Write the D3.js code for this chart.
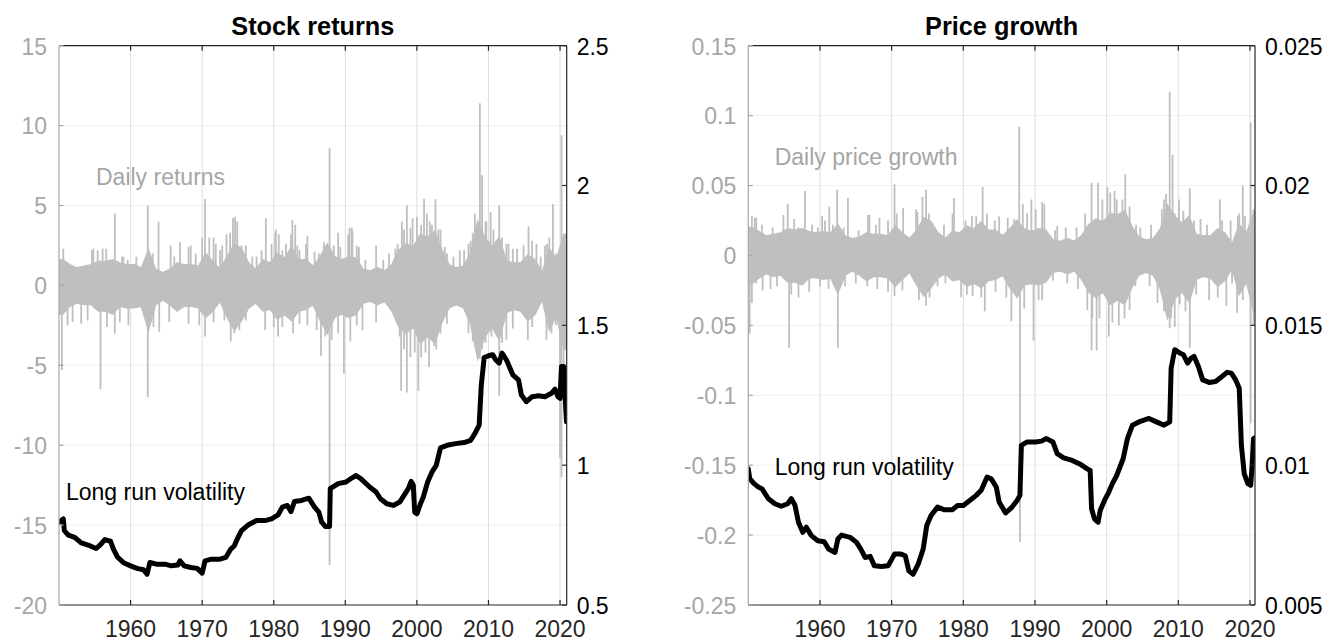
<!DOCTYPE html>
<html>
<head>
<meta charset="utf-8">
<script src="https://cdn.jsdelivr.net/npm/d3@7"></script>
<style>
  body { margin: 0; background: #fff; }
  svg { display: block; }
  text { font-family: "Liberation Sans", Arial, Helvetica, sans-serif; }
</style>
</head>
<body>
<svg id="chart" width="1340" height="642"></svg>
<script>
// ---------------- data ----------------
const bandYears = d3.range(1950, 2021);           // yearly buckets 1950..2020
const decadeTicks = [1960, 1970, 1980, 1990, 2000, 2010, 2020];

// Stock returns: typical daily range per year (percent)
const retHi = [1.6,1.3,1.1,1.2,1.3,1.5,1.5,1.6,1.4,1.3, 1.3,1.1,2.2,1.0,0.8,1.0,1.4,1.3,1.3,1.2,
               2.0,1.5,1.0,1.8,2.6,2.3,1.4,1.0,1.6,1.4, 2.0,1.7,2.4,1.6,1.6,1.2,1.8,2.6,1.8,1.6,
               1.8,1.7,1.0,0.9,1.1,0.9,1.3,2.2,2.6,2.4, 3.2,3.0,3.4,2.2,1.3,1.1,1.2,2.0,4.0,3.0,
               2.4,3.0,1.5,1.4,1.4,1.9,1.6,0.8,2.3,1.6, 3.2];
const retLo = [-1.8,-1.3,-1.1,-1.2,-1.2,-1.6,-1.6,-1.8,-1.3,-1.4, -1.4,-1.3,-2.8,-1.2,-0.9,-1.2,-1.6,-1.3,-1.3,-1.4,
               -2.0,-1.6,-1.0,-2.0,-2.8,-2.2,-1.4,-1.1,-1.6,-1.5, -2.1,-1.8,-2.2,-1.6,-1.5,-1.2,-2.2,-3.0,-2.0,-1.8,
               -2.0,-1.8,-1.1,-1.0,-1.2,-1.0,-1.6,-2.6,-3.0,-2.6, -3.6,-3.2,-3.6,-2.3,-1.4,-1.2,-1.4,-2.4,-4.6,-3.2,
               -2.6,-3.4,-1.7,-1.5,-1.6,-2.2,-1.8,-0.9,-2.8,-1.9, -4.0];
// Stock returns: individual large daily moves [year, percent]
const retSpikes = [
  [1950.6,2.3],[1954.6,2.2],[1956.1,2.3],[1957.8,4.5],[1959.0,1.8],[1962.4,5.0],[1963.9,4.0],
  [1965.6,2.5],[1966.9,2.7],[1968.4,2.5],[1970.4,5.4],[1971.0,3.0],[1971.9,2.6],[1973.4,3.2],
  [1974.6,4.3],[1974.9,4.0],[1976.1,2.5],[1977.6,1.8],[1978.9,4.2],[1980.2,3.3],[1981.2,2.2],
  [1982.6,4.1],[1983.3,2.5],[1984.5,2.6],[1986.3,2.0],[1987.2,2.5],[1987.8,8.6],[1989.0,3.3],
  [1990.6,3.6],[1991.0,3.4],[1991.9,2.4],[1997.0,2.3],[1997.9,4.0],[1998.6,5.0],[2000.0,4.3],
  [2001.0,5.4],[2001.8,4.0],[2002.6,5.4],[2003.3,3.5],[2004.2,2.0],[2006.6,2.2],[2007.5,2.8],
  [2008.1,4.5],[2008.8,11.4],[2009.1,6.9],[2009.6,4.0],[2010.3,4.6],[2011.5,5.0],[2012.8,2.6],
  [2014.0,2.3],[2015.6,3.7],[2016.7,2.6],[2018.2,2.6],[2019.0,5.1],[2020.2,9.4],[2020.6,2.5],
  [1954.8,2.3],[1955.4,2.2],[1956.6,2.3],[1958.8,1.8],[1959.6,1.6],[1960.8,1.8],[1963.1,2.0],
  [1966.1,1.8],[1968.1,2.4],[1969.1,2.0],[1970.0,3.0],[1971.6,3.0],[1972.5,2.2],[1972.8,2.5],
  [1973.9,3.3],[1974.3,4.2],[1975.5,2.5],[1977.0,1.8],[1978.3,2.2],[1979.7,2.6],[1980.3,3.5],
  [1980.7,3.2],[1981.7,2.6],[1982.4,3.2],[1983.0,3.8],[1983.6,2.2],[1984.7,3.1],[1985.7,2.1],
  [1987.0,2.7],[1987.4,2.4],[1988.4,2.5],[1989.3,2.4],[1990.4,3.2],[1990.9,3.6],[1991.6,2.5],
  [1992.8,1.6],[1994.3,2.5],[1995.3,1.6],[1996.1,2.0],[1997.3,2.6],[1998.2,3.5],[1999.1,3.6],
  [1999.4,4.2],[2000.6,3.8],[2001.4,4.5],[2002.1,3.8],[2003.0,3.5],[2003.9,2.4],[2005.1,1.8],
  [2006.0,2.2],[2007.2,2.6],[2007.8,3.3],[2008.4,3.8],[2009.7,4.0],[2010.7,3.5],[2011.9,3.0],
  [2012.5,2.6],[2013.4,2.3],[2014.9,2.5],[2016.1,2.8],[2017.3,1.8],[2017.9,2.5],[2018.5,3.0],
  [2019.4,2.0],
  [1950.4,-5.3],[1955.8,-6.5],[1957.8,-3.0],[1962.4,-7.0],[1964.0,-2.9],[1970.4,-3.2],[1974.0,-3.5],
  [1974.5,-3.0],[1978.8,-2.8],[1980.6,-3.2],[1982.7,-3.0],[1986.6,-4.4],[1987.8,-17.5],[1988.1,-3.4],
  [1989.8,-5.5],[1990.7,-3.5],[1997.8,-6.6],[1998.6,-6.7],[1999.7,-4.2],[2000.2,-6.6],[2001.7,-5.1],
  [2002.4,-3.8],[2003.3,-3.0],[2007.2,-3.0],[2008.1,-3.8],[2008.8,-4.6],[2009.1,-4.0],[2011.5,-6.9],
  [2012.5,-3.4],[2015.5,-3.4],[2018.1,-3.4],[2018.8,-3.0],[2020.0,-10.8],[2020.2,-12.0],[2020.5,-5.3],
  [1951.2,-2.5],[1951.9,-2.3],[1953.1,-2.4],[1954.0,-2.2],[1956.7,-2.6],[1958.5,-2.3],[1959.7,-2.5],
  [1963.2,-2.6],[1965.4,-2.3],[1968.1,-2.4],[1969.6,-2.5],[1971.6,-2.3],[1973.1,-2.2],[1975.2,-2.8],
  [1976.1,-2.2],[1980.0,-2.6],[1981.2,-2.6],[1983.6,-2.4],[1984.7,-2.5],[1986.0,-2.8],[1987.2,-3.2],
  [1989.0,-3.0],[1991.6,-2.5],[1992.4,-2.8],[1994.3,-2.3],[1997.6,-3.2],[1998.2,-4.0],[1999.1,-4.5],
  [2000.6,-4.5],[2001.2,-4.2],[2002.7,-4.0],[2004.2,-2.4],[2007.8,-3.5],[2008.4,-4.2],[2009.6,-3.6],
  [2010.4,-3.2],[2011.9,-3.6],[2013.4,-2.7],[2016.1,-2.6],[2019.4,-2.5]
];

// Price growth: typical daily range per year
const pgHi = [.020,.017,.014,.015,.016,.019,.018,.019,.017,.016, .017,.016,.022,.014,.012,.013,.016,.015,.015,.014,
              .021,.016,.012,.018,.027,.024,.016,.012,.017,.016, .021,.019,.024,.018,.018,.014,.019,.025,.019,.017,
              .019,.018,.011,.010,.012,.010,.014,.022,.026,.024, .030,.029,.032,.021,.013,.011,.012,.019,.036,.028,
              .023,.028,.015,.014,.014,.019,.016,.008,.022,.016, .030];
const pgLo = [-.020,-.016,-.013,-.015,-.014,-.019,-.019,-.021,-.016,-.016, -.017,-.016,-.027,-.014,-.011,-.014,-.018,-.015,-.015,-.016,
              -.022,-.017,-.012,-.021,-.029,-.023,-.016,-.013,-.018,-.017, -.022,-.020,-.023,-.018,-.017,-.014,-.023,-.030,-.021,-.020,
              -.021,-.019,-.012,-.011,-.013,-.011,-.017,-.026,-.030,-.026, -.035,-.032,-.035,-.023,-.014,-.012,-.014,-.024,-.045,-.031,
              -.026,-.033,-.017,-.015,-.016,-.022,-.018,-.009,-.028,-.019, -.040];
// Price growth: individual large daily moves [year, growth]
const pgSpikes = [
  [1950.5,.028],[1951.1,.027],[1954.9,.029],[1955.5,.037],[1957.9,.046],[1960.3,.028],[1961.3,.035],
  [1962.4,.047],[1963.9,.041],[1966.9,.029],[1968.3,.027],[1970.4,.051],[1971.6,.034],[1973.6,.031],
  [1974.8,.047],[1978.7,.041],[1981.2,.028],[1982.7,.049],[1985.0,.028],[1987.8,.092],[1988.3,.037],
  [1989.5,.040],[1991.0,.038],[1993.1,.021],[1997.9,.052],[1998.8,.052],[2000.1,.049],[2001.1,.046],
  [2002.6,.058],[2004.1,.022],[2008.3,.044],[2008.8,.117],[2009.2,.072],[2010.1,.040],[2011.6,.048],
  [2013.1,.026],[2015.8,.040],[2018.3,.028],[2019.0,.050],[2020.1,.095],[2020.5,.033],
  [1950.9,.027],[1951.9,.022],[1953.4,.020],[1956.4,.026],[1957.0,.020],[1958.9,.022],[1959.7,.020],
  [1960.7,.025],[1961.8,.022],[1963.3,.020],[1965.4,.018],[1966.7,.029],[1967.8,.022],[1969.5,.025],
  [1970.7,.030],[1973.4,.033],[1974.3,.042],[1975.2,.030],[1977.3,.022],[1978.5,.030],[1980.3,.025],
  [1981.8,.028],[1983.3,.030],[1984.4,.025],[1986.2,.027],[1987.1,.026],[1988.9,.030],[1990.1,.033],
  [1991.3,.037],[1992.8,.018],[1994.3,.020],[1995.8,.020],[1997.0,.030],[1999.4,.040],[2000.5,.045],
  [2001.4,.040],[2002.2,.040],[2003.2,.035],[2004.7,.020],[2006.2,.022],[2007.7,.033],[2008.0,.040],
  [2009.5,.030],[2010.7,.032],[2012.2,.025],[2014.0,.022],[2016.1,.025],[2017.3,.025],[2018.5,.030],
  [2019.3,.028],
  [1950.2,-.056],[1950.5,-.034],[1951.1,-.020],[1953.1,-.024],[1955.7,-.066],[1957.0,-.030],[1961.2,-.024],
  [1962.5,-.066],[1966.6,-.022],[1970.4,-.029],[1974.8,-.036],[1976.4,-.022],[1979.7,-.030],[1981.3,-.029],
  [1983.0,-.040],[1986.7,-.047],[1987.9,-.205],[1989.8,-.061],[1991.0,-.032],[1997.3,-.039],[1997.9,-.068],
  [1998.6,-.068],[2000.3,-.058],[2001.7,-.050],[2003.2,-.039],[2007.1,-.034],[2008.8,-.052],[2009.5,-.051],
  [2011.6,-.066],[2014.3,-.032],[2016.7,-.036],[2018.2,-.041],[2020.1,-.120],[2020.5,-.050],
  [1952.0,-.025],[1954.0,-.022],[1956.0,-.028],[1958.5,-.026],[1960.0,-.022],[1963.5,-.022],[1965.0,-.020],
  [1968.0,-.024],[1969.5,-.026],[1971.5,-.025],[1973.8,-.032],[1975.3,-.030],[1977.5,-.020],[1980.5,-.028],
  [1982.5,-.030],[1984.5,-.026],[1986.0,-.030],[1988.5,-.038],[1990.5,-.032],[1992.5,-.018],[1994.5,-.020],
  [1996.0,-.024],[1998.0,-.045],[1999.0,-.045],[2000.8,-.048],[2002.5,-.045],[2004.0,-.022],[2006.0,-.022],
  [2008.0,-.040],[2009.0,-.045],[2010.2,-.035],[2011.0,-.040],[2012.5,-.028],[2015.5,-.030],[2017.5,-.020],
  [2019.0,-.032]
];

// Long run volatility [year, value]
const volStock = [
  [1950.0,0.796],[1950.6,0.808],[1950.75,0.766],[1951.3,0.750],[1952.2,0.742],[1953.1,0.722],[1954.3,0.712],
  [1955.2,0.702],[1955.8,0.716],[1956.4,0.734],[1957.2,0.728],[1957.6,0.700],[1958.2,0.670],[1959.1,0.650],
  [1960.0,0.640],[1960.9,0.631],[1961.8,0.626],[1962.3,0.610],[1962.7,0.652],[1963.6,0.646],[1964.8,0.646],
  [1965.7,0.640],[1966.6,0.643],[1966.9,0.658],[1967.5,0.640],[1968.4,0.634],[1969.3,0.631],[1970.0,0.614],
  [1970.4,0.658],[1971.3,0.664],[1972.5,0.664],[1973.3,0.670],[1974.0,0.700],[1974.5,0.712],[1974.9,0.736],
  [1975.5,0.766],[1976.4,0.786],[1977.6,0.802],[1978.8,0.802],[1979.7,0.808],[1980.6,0.822],[1981.2,0.850],
  [1981.9,0.856],[1982.4,0.834],[1982.9,0.870],[1983.9,0.874],[1984.9,0.882],[1985.7,0.850],[1986.3,0.832],
  [1986.7,0.796],[1987.2,0.781],[1987.8,0.781],[1987.9,0.916],[1989.0,0.934],[1990.1,0.940],[1990.9,0.954],
  [1991.5,0.963],[1992.2,0.951],[1993.4,0.922],[1994.3,0.904],[1994.9,0.880],[1995.8,0.862],[1996.7,0.856],
  [1997.6,0.868],[1998.2,0.892],[1998.8,0.916],[1999.2,0.942],[1999.5,0.928],[1999.7,0.832],[2000.0,0.826],
  [2000.5,0.862],[2000.9,0.886],[2001.5,0.940],[2002.1,0.975],[2002.7,0.999],[2003.3,1.062],[2004.2,1.071],
  [2005.4,1.077],[2006.6,1.081],[2007.5,1.089],[2008.1,1.113],[2008.7,1.143],[2009.0,1.287],[2009.4,1.385],
  [2010.1,1.392],[2010.6,1.395],[2011.0,1.377],[2011.5,1.365],[2011.9,1.401],[2012.5,1.377],[2013.4,1.323],
  [2014.2,1.305],[2014.6,1.251],[2015.3,1.227],[2016.1,1.245],[2017.0,1.248],[2017.9,1.245],[2018.8,1.257],
  [2019.3,1.272],[2019.7,1.245],[2020.0,1.239],[2020.2,1.353],[2020.5,1.353],[2020.7,1.251],[2020.9,1.155]
];
const volPrice = [
  [1950.0,0.00987],[1950.2,0.00952],[1950.8,0.00934],[1951.4,0.00922],[1951.9,0.00916],[1952.8,0.00880],
  [1953.7,0.00862],[1954.6,0.00853],[1955.5,0.00862],[1956.0,0.00880],[1956.5,0.00858],[1957.0,0.00796],
  [1957.6,0.00760],[1958.1,0.00778],[1958.8,0.00748],[1959.7,0.00730],[1960.6,0.00726],[1961.2,0.00700],
  [1962.1,0.00688],[1962.5,0.00736],[1963.0,0.00750],[1964.2,0.00742],[1965.1,0.00724],[1965.7,0.00700],
  [1966.3,0.00670],[1967.0,0.00674],[1967.6,0.00640],[1968.6,0.00638],[1969.5,0.00640],[1970.4,0.00682],
  [1971.3,0.00682],[1971.9,0.00676],[1972.4,0.00622],[1973.0,0.00610],[1973.7,0.00646],[1974.4,0.00700],
  [1974.9,0.00784],[1975.5,0.00820],[1976.4,0.00850],[1977.3,0.00841],[1978.5,0.00841],[1979.2,0.00856],
  [1980.0,0.00856],[1980.9,0.00874],[1981.8,0.00892],[1982.5,0.00910],[1983.3,0.00957],[1983.9,0.00951],
  [1984.6,0.00922],[1985.0,0.00868],[1985.9,0.00829],[1986.8,0.00850],[1987.5,0.00874],[1987.9,0.00892],
  [1988.1,0.01071],[1988.9,0.01083],[1990.1,0.01083],[1990.9,0.01086],[1991.6,0.01095],[1992.5,0.01083],
  [1993.1,0.01041],[1994.0,0.01026],[1995.2,0.01017],[1996.4,0.01002],[1997.3,0.00987],[1997.7,0.00981],
  [1997.9,0.00844],[1998.3,0.00808],[1998.8,0.00796],[1999.1,0.00838],[1999.7,0.00874],[2000.3,0.00904],
  [2000.8,0.00934],[2001.4,0.00963],[2002.3,0.01023],[2002.9,0.01095],[2003.6,0.01143],[2004.7,0.01157],
  [2005.9,0.01167],[2007.1,0.01153],[2008.0,0.01143],[2008.8,0.01155],[2009.0,0.01347],[2009.5,0.01413],
  [2010.2,0.01401],[2010.7,0.01395],[2011.3,0.01365],[2011.8,0.01383],[2012.2,0.01389],[2012.8,0.01353],
  [2013.4,0.01305],[2014.3,0.01296],[2015.2,0.01299],[2016.1,0.01317],[2016.8,0.01332],[2017.4,0.01329],
  [2018.0,0.01305],[2018.5,0.01275],[2018.8,0.01071],[2019.2,0.00969],[2019.7,0.00934],[2020.1,0.00928],
  [2020.3,0.00999],[2020.5,0.01095],[2020.7,0.01098]
];

// Axis tick values
const stockLeftTicks  = [-20, -15, -10, -5, 0, 5, 10, 15];
const stockRightTicks = [0.5, 1, 1.5, 2, 2.5];
const priceLeftTicks  = [-0.25, -0.2, -0.15, -0.1, -0.05, 0, 0.05, 0.1, 0.15];
const priceRightTicks = [0.005, 0.01, 0.015, 0.02, 0.025];

// ---------------- drawing ----------------
const svg = d3.select("#chart");
const TOP = 45.7, BOTTOM = 605;
const GRAY_SERIES = "#bfbfbf", GRAY_AXIS = "#a6a6a6", DARK = "#262626";
const FS = 23;

const panels = [
  { id: "p1", title: "Stock returns", L: 59, R: 566.7, xEnd: 2020.93,
    leftTicks: stockLeftTicks, rightTicks: stockRightTicks,
    hi: retHi, lo: retLo, spikes: retSpikes, vol: volStock,
    dailyText: "Daily returns", dailyAt: [96, 185], volText: "Long run volatility", volAt: [66, 500] },
  { id: "p2", title: "Price growth", L: 748.3, R: 1255, xEnd: 2020.7,
    leftTicks: priceLeftTicks, rightTicks: priceRightTicks,
    hi: pgHi, lo: pgLo, spikes: pgSpikes, vol: volPrice,
    dailyText: "Daily price growth", dailyAt: [774.7, 165], volText: "Long run volatility", volAt: [774.7, 475] }
];

const fmt = v => String(+v.toFixed(4));

panels.forEach(p => {
  const g = svg.append("g");
  const x = d3.scaleLinear().domain([1950, p.xEnd]).range([p.L, p.R]);
  const yL = d3.scaleLinear().domain(d3.extent(p.leftTicks)).range([BOTTOM, TOP]);
  const yR = d3.scaleLinear().domain(d3.extent(p.rightTicks)).range([BOTTOM, TOP]);

  // grid
  g.append("g").selectAll("line").data(p.leftTicks.slice(1, -1)).join("line")
    .attr("x1", p.L).attr("x2", p.R).attr("y1", d => yL(d)).attr("y2", d => yL(d))
    .attr("stroke", "#f0f0f0").attr("stroke-width", 1);
  g.append("g").selectAll("line").data(decadeTicks).join("line")
    .attr("x1", d => x(d)).attr("x2", d => x(d)).attr("y1", TOP).attr("y2", BOTTOM)
    .attr("stroke", "#dedede").attr("stroke-width", 1);

  // clip
  svg.append("clipPath").attr("id", "clip-" + p.id)
    .append("rect").attr("x", p.L).attr("y", TOP).attr("width", p.R - p.L).attr("height", BOTTOM - TOP);
  const plot = g.append("g").attr("clip-path", `url(#clip-${p.id})`);

  // daily series: yearly envelope band
  const band = bandYears.map((yr, i) => ({ t: yr + 0.5, hi: p.hi[i], lo: p.lo[i] }));
  band.unshift({ t: 1950, hi: p.hi[0], lo: p.lo[0] });
  band.push({ t: p.xEnd + 0.1, hi: p.hi[p.hi.length - 1], lo: p.lo[p.lo.length - 1] });
  plot.append("path").datum(band)
    .attr("d", d3.area().x(d => x(d.t)).y0(d => yL(d.lo)).y1(d => yL(d.hi)))
    .attr("fill", GRAY_SERIES).attr("stroke", GRAY_SERIES).attr("stroke-width", 1.5);

  // daily series: large single-day moves
  plot.append("g").selectAll("line").data(p.spikes).join("line")
    .attr("x1", d => x(d[0])).attr("x2", d => x(d[0]))
    .attr("y1", yL(0)).attr("y2", d => yL(d[1]))
    .attr("stroke", GRAY_SERIES).attr("stroke-width", 1.8);

  // long run volatility
  plot.append("path").datum(p.vol)
    .attr("d", d3.line().x(d => x(d[0])).y(d => yR(d[1])))
    .attr("fill", "none").attr("stroke", "#000").attr("stroke-width", 5)
    .attr("stroke-linejoin", "round").attr("stroke-linecap", "round");

  // axes box
  g.append("line").attr("x1", p.L).attr("x2", p.R).attr("y1", BOTTOM).attr("y2", BOTTOM)
    .attr("stroke", DARK).attr("stroke-width", 1.2);
  g.append("line").attr("x1", p.L).attr("x2", p.R).attr("y1", TOP).attr("y2", TOP)
    .attr("stroke", DARK).attr("stroke-width", 1.2);
  g.append("line").attr("x1", p.R).attr("x2", p.R).attr("y1", TOP).attr("y2", BOTTOM)
    .attr("stroke", DARK).attr("stroke-width", 1.2);
  g.append("line").attr("x1", p.L).attr("x2", p.L).attr("y1", TOP).attr("y2", BOTTOM)
    .attr("stroke", GRAY_AXIS).attr("stroke-width", 1.2);

  // x ticks (inward, bottom and top) and labels
  decadeTicks.forEach(d => {
    g.append("line").attr("x1", x(d)).attr("x2", x(d)).attr("y1", BOTTOM).attr("y2", BOTTOM - 5)
      .attr("stroke", DARK).attr("stroke-width", 1.2);
    g.append("line").attr("x1", x(d)).attr("x2", x(d)).attr("y1", TOP).attr("y2", TOP + 5)
      .attr("stroke", DARK).attr("stroke-width", 1.2);
  });
  g.append("g").selectAll("text").data(decadeTicks).join("text")
    .attr("x", d => x(d)).attr("y", 637).attr("text-anchor", "middle")
    .attr("font-size", FS).attr("fill", DARK).text(d => d);

  // left axis ticks and labels
  p.leftTicks.forEach(d => {
    g.append("line").attr("x1", p.L).attr("x2", p.L + 4.5).attr("y1", yL(d)).attr("y2", yL(d))
      .attr("stroke", GRAY_AXIS).attr("stroke-width", 1.2);
  });
  g.append("g").selectAll("text").data(p.leftTicks).join("text")
    .attr("x", p.L - 12).attr("y", d => yL(d) + 8.8).attr("text-anchor", "end")
    .attr("font-size", FS).attr("fill", GRAY_AXIS).text(fmt);

  // right axis ticks and labels
  p.rightTicks.forEach(d => {
    g.append("line").attr("x1", p.R).attr("x2", p.R - 4.5).attr("y1", yR(d)).attr("y2", yR(d))
      .attr("stroke", DARK).attr("stroke-width", 1.2);
  });
  g.append("g").selectAll("text").data(p.rightTicks).join("text")
    .attr("x", p.R + 10).attr("y", d => yR(d) + 8.8).attr("text-anchor", "start")
    .attr("font-size", FS).attr("fill", "#000").text(fmt);

  // title and series labels
  g.append("text").attr("x", (p.L + p.R) / 2).attr("y", 35).attr("text-anchor", "middle")
    .attr("font-size", 25.3).attr("font-weight", "bold").attr("fill", "#000").text(p.title);
  g.append("text").attr("x", p.dailyAt[0]).attr("y", p.dailyAt[1])
    .attr("font-size", FS).attr("fill", GRAY_AXIS).text(p.dailyText);
  g.append("text").attr("x", p.volAt[0]).attr("y", p.volAt[1])
    .attr("font-size", FS).attr("fill", "#000").text(p.volText);
});
</script>
</body>
</html>
